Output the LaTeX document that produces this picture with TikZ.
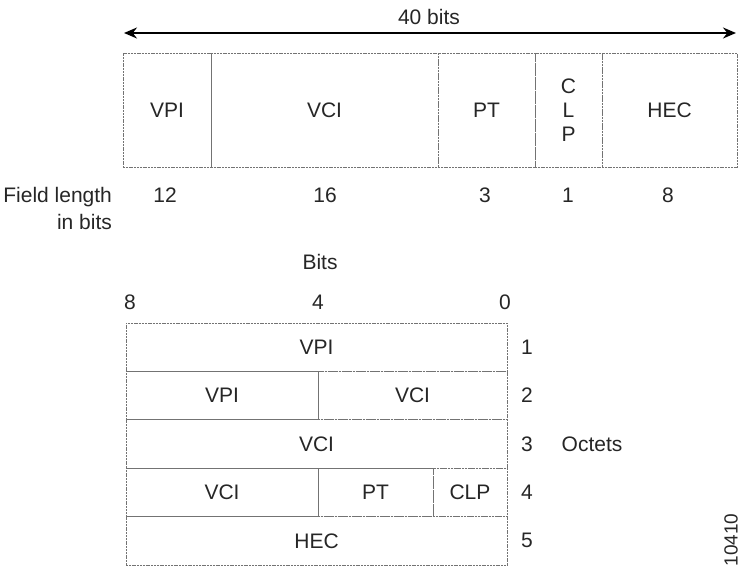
\documentclass[tikz,border=0pt]{standalone}
\usepackage{fontspec}
\setmainfont{Liberation Sans}
\usetikzlibrary{arrows.meta}
\begin{document}
\begin{tikzpicture}[x=0.5pt, y=-0.5pt, >={Stealth[length=6.5pt,width=5.5pt]},
  font=\fontsize{10.5}{12}\selectfont, text=black!85,
  topcell/.style={draw=black!55, dash pattern=on 1pt off 0.4pt, line width=0.5pt,
    inner sep=0pt, outer sep=0pt, minimum height=57pt},
  rowcell/.style={draw=black!55, dash pattern=on 1pt off 0.4pt, line width=0.5pt,
    inner sep=0pt, outer sep=0pt, minimum height=24.2pt}]
  \useasboundingbox (0,0) rectangle (742,568);
  % cell length arrow
  \coordinate (bl) at (124,33);
  \coordinate (br) at (736,33);
  \draw[<->, line width=0.9pt] (bl) -- (br);
  \node (total) at (429,17) {40 bits};
  % header fields
  \node[topcell, minimum width=44pt] (vpi) at (167,110) {VPI};
  \node[topcell, minimum width=113.5pt] (vci) at (324.5,110) {VCI};
  \node[topcell, minimum width=48.5pt] (pt) at (486.5,110) {PT};
  \node[topcell, minimum width=33.5pt, align=center] (clp) at (568.5,110) {C\\L\\P};
  \node[topcell, minimum width=67.5pt] (hec) at (669.5,110) {HEC};
  % field lengths
  \node[anchor=east, align=right, font=\fontsize{10.5}{13.5}\selectfont] (flen) at (119,208) {Field length\\in bits};
  \foreach \x/\n in {165/12, 325/16, 485/3, 568/1, 668/8}
    \node (len\n) at (\x,195) {\n};
  % octet layout
  \node (bits) at (320,262) {Bits};
  \node (b8) at (130,302) {8};
  \node (b4) at (318,302) {4};
  \node (b0) at (505,302) {0};
  \node[rowcell, minimum width=190.5pt] (r1) at (316.5,347.2) {VPI};
  \node[rowcell, minimum width=96pt] (r2a) at (222,395.6) {VPI};
  \node[rowcell, minimum width=94.5pt] (r2b) at (412.5,395.6) {VCI};
  \node[rowcell, minimum width=190.5pt] (r3) at (316.5,444) {VCI};
  \node[rowcell, minimum width=96pt] (r4a) at (222,492.4) {VCI};
  \node[rowcell, minimum width=57.5pt] (r4b) at (375.5,492.4) {PT};
  \node[rowcell, minimum width=37pt] (r4c) at (470,492.4) {CLP};
  \node[rowcell, minimum width=190.5pt] (r5) at (316.5,540.8) {HEC};
  \foreach \i in {1,...,5}
    \node (oct\i) at (527,{347.2+48.4*(\i-1)}) {\i};
  \node (octets) at (592,444) {Octets};
  \node[rotate=90, font=\fontsize{9.5}{11}\selectfont, inner sep=1pt] (fig) at (731,540) {10410};
\end{tikzpicture}
\end{document}
